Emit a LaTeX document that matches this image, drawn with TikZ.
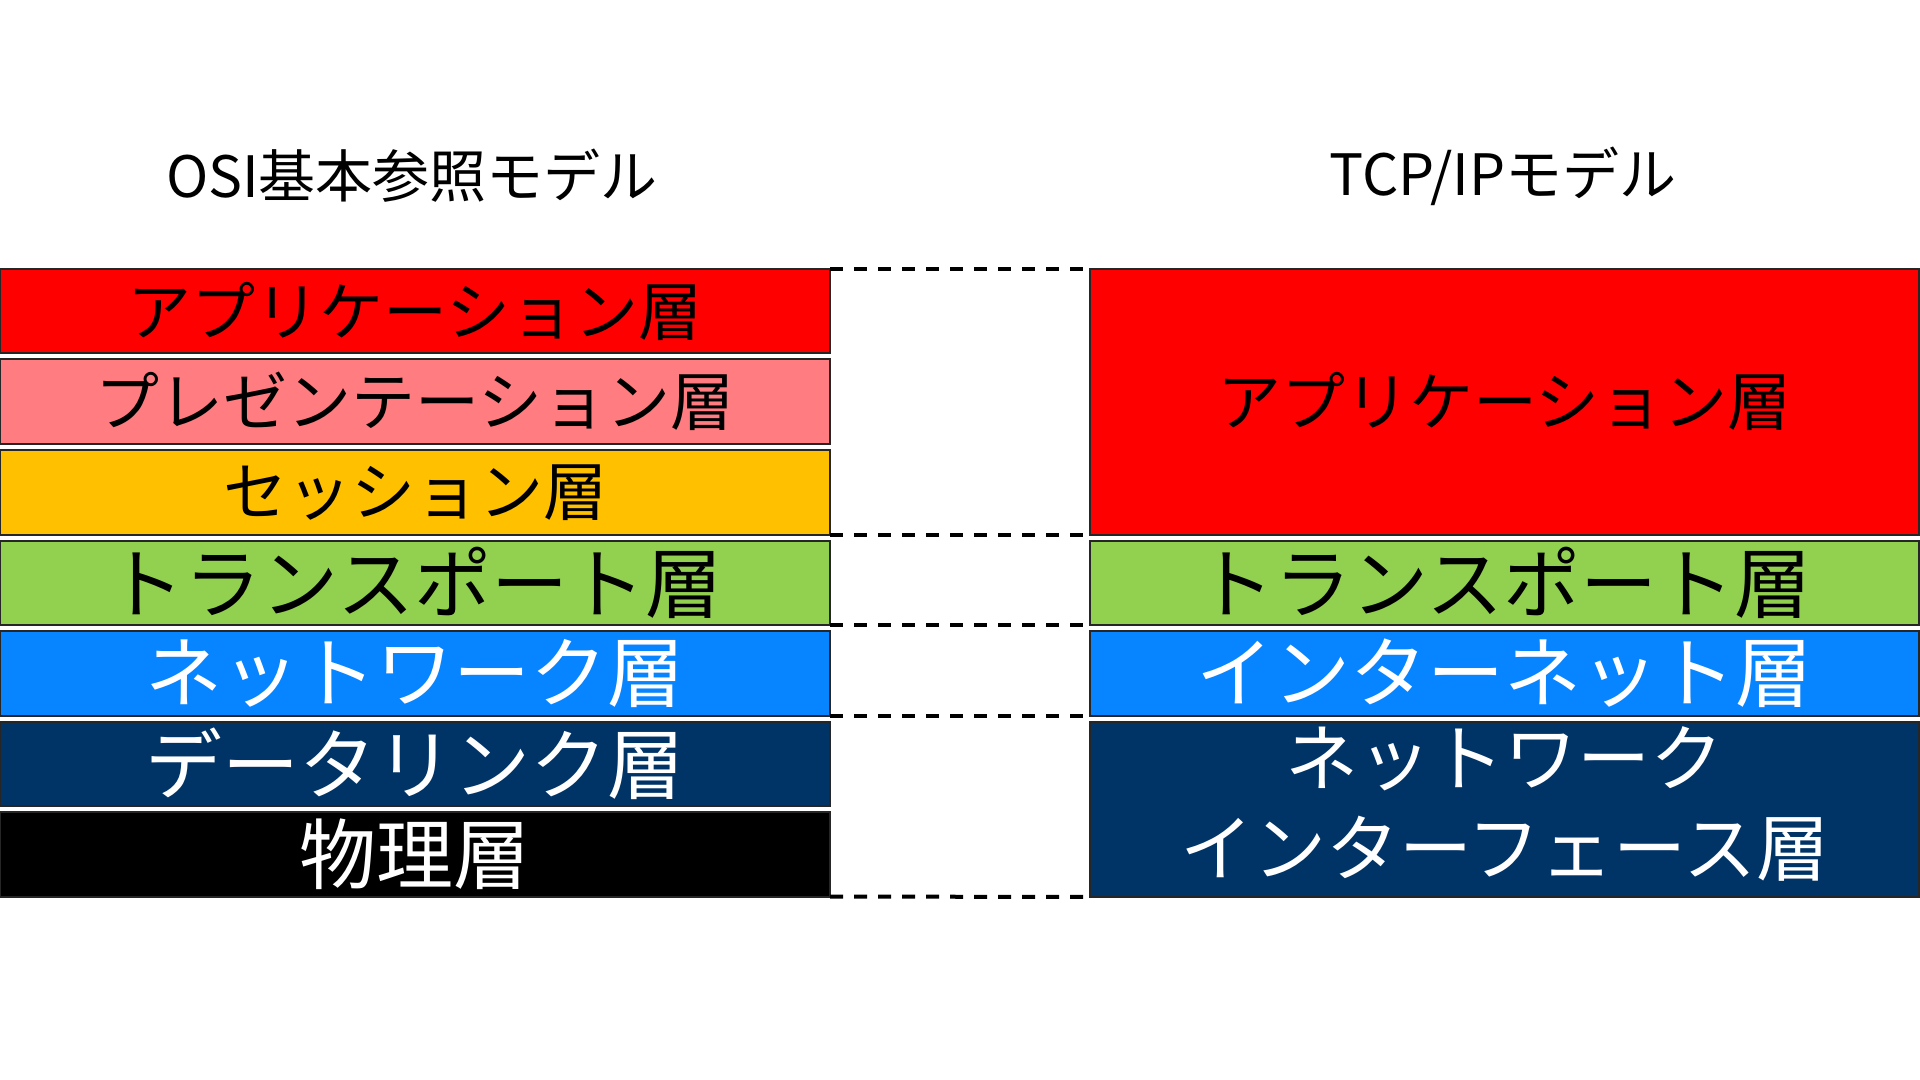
\documentclass[tikz,border=0pt]{standalone}
\usepackage{fontspec}
\setmainfont{Noto Sans CJK JP}
\definecolor{cred}{HTML}{FF0000}
\definecolor{cpink}{HTML}{FF7C80}
\definecolor{corange}{HTML}{FFC000}
\definecolor{cgreen}{HTML}{92D050}
\definecolor{cblue}{HTML}{0784FF}
\definecolor{cnavy}{HTML}{003366}
\newcommand\lifttext[1]{\raisebox{2.2pt}{#1}}
\begin{document}
\begin{tikzpicture}[x=0.5pt,y=-0.5pt,
  layer/.style={rectangle, draw=black!85, line width=1pt, inner sep=0pt, outer sep=0pt, align=center},
  lbox/.style={layer, minimum width=415pt, minimum height=42.25pt},
  rbox/.style={layer, minimum width=414.5pt},
  small/.style={font=\fontsize{32}{40}\selectfont},
  big/.style={font=\fontsize{38.5}{46}\selectfont},
  title/.style={font=\fontsize{28.5}{34}\selectfont, inner sep=0pt},
  guide/.style={line width=2pt, dash pattern=on 6.5pt off 5.5pt}
]
\useasboundingbox (0,0) rectangle (1920,1080);
\fill[white] (0,0) rectangle (1920,1080);

\node[title] (tosi) at (412,176) {OSI基本参照モデル};
\node[title] (ttcp) at (1503,176) {TCP/IPモデル};

\node[lbox, small, fill=cred] (lapp) at (415,311.25) {\lifttext{アプリケーション層}};
\node[lbox, small, fill=cpink] (lpre) at (415,401.75) {\lifttext{プレゼンテーション層}};
\node[lbox, small, fill=corange] (lses) at (415,492.25) {\lifttext{セッション層}};
\node[lbox, big, fill=cgreen] (ltr) at (415,582.75) {\lifttext{トランスポート層}};
\node[lbox, big, fill=cblue, text=white] (lnet) at (415,673.25) {\lifttext{ネットワーク層}};
\node[lbox, big, fill=cnavy, text=white] (ldl) at (415,763.75) {\lifttext{データリンク層}};
\node[lbox, big, fill=black, text=white] (lphy) at (415,854.25) {\lifttext{物理層}};

\node[rbox, small, fill=cred, minimum height=132.75pt] (rapp) at (1504.5,401.75) {\lifttext{アプリケーション層}};
\node[rbox, big, fill=cgreen, minimum height=42.25pt] (rtr) at (1504.5,582.75) {\lifttext{トランスポート層}};
\node[rbox, big, fill=cblue, text=white, minimum height=42.25pt] (rint) at (1504.5,673.25) {\lifttext{インターネット層}};
\node[rbox, fill=cnavy, text=white, minimum height=87.75pt, font=\fontsize{36.5}{45}\selectfont] (rnif) at (1504.5,809.25) {ネットワーク\\インターフェース層\rule[-8.5pt]{0pt}{1pt}};

\draw[guide] (lapp.north east) -- (rapp.north west);
\draw[guide] (lses.south east) -- (rapp.south west);
\draw[guide] (ltr.south east) -- (rtr.south west);
\draw[guide] (lnet.south east) -- (rint.south west);
\draw[guide] (lphy.south east) -- (rnif.south west);
\end{tikzpicture}
\end{document}
